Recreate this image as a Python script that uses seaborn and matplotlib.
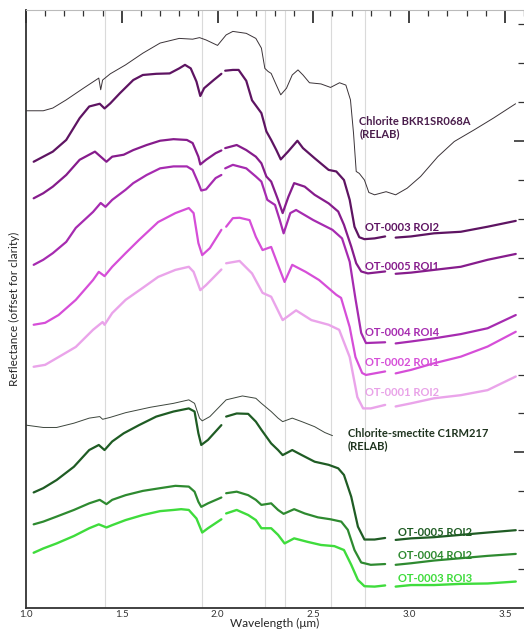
import numpy as np
import pandas as pd
import matplotlib.pyplot as plt
import seaborn as sns
from matplotlib.ticker import FixedLocator, MultipleLocator

nan = np.nan

# ---- spectra: wavelength (um) and offset reflectance --------------------------
# NaN marks the detector gaps in the OT spectra
chl_bkr_wl = [1.00, 1.09, 1.14, 1.21, 1.30, 1.38, 1.39, 1.40, 1.44, 1.52, 1.61, 1.70, 1.80, 1.87,
              1.906, 1.94, 2.00, 2.045, 2.08, 2.15, 2.20, 2.229, 2.247, 2.264, 2.28, 2.307, 2.33,
              2.36, 2.39, 2.42, 2.446, 2.48, 2.54, 2.59, 2.637, 2.67, 2.694, 2.71, 2.724, 2.74,
              2.767, 2.79, 2.82, 2.88, 2.93, 2.99, 3.06, 3.15, 3.236, 3.34, 3.44, 3.556]
chl_bkr_r = [12.78, 12.78, 12.85, 13.06, 13.36, 13.62, 13.32, 13.57, 13.73, 13.96, 14.26, 14.52,
             14.64, 14.62, 14.66, 14.60, 14.46, 14.73, 14.82, 14.77, 14.64, 14.39, 13.87, 13.79,
             13.74, 13.44, 13.19, 13.36, 13.70, 13.83, 13.70, 13.50, 13.47, 13.38, 13.50, 13.44,
             13.06, 12.20, 11.22, 11.17, 11.00, 10.68, 10.62, 10.70, 10.62, 10.79, 11.09, 11.60,
             11.99, 12.29, 12.59, 12.96]

ot3_roi2_wl = [1.04, 1.09, 1.14, 1.21, 1.28, 1.33, 1.385, 1.41, 1.44, 1.49, 1.56, 1.61, 1.68, 1.75,
               1.80, 1.83, 1.86, 1.89, 1.91, 1.93, 1.98, 2.02, 2.03, 2.04, 2.08, 2.11, 2.15, 2.18,
               2.229, 2.255, 2.28, 2.307, 2.33, 2.368, 2.417, 2.446, 2.507, 2.58, 2.62, 2.66, 2.69,
               2.715, 2.74, 2.767, 2.82, 2.875, 2.90, 2.93, 3.01, 3.13, 3.27, 3.41, 3.557]
ot3_roi2_r = [11.47, 11.60, 11.73, 12.03, 12.59, 12.89, 12.96, 12.84, 12.97, 13.23, 13.57, 13.70,
              13.73, 13.74, 13.87, 13.96, 13.87, 13.53, 13.16, 13.36, 13.57, 13.73, nan, 13.81,
              13.83, 13.83, 13.55, 13.05, 12.72, 12.25, 12.03, 11.77, 11.53, 11.73, 12.01, 11.82,
              11.56, 11.26, 11.22, 11.00, 10.49, 9.80, 9.53, 9.48, 9.50, 9.55, nan, 9.52, 9.55,
              9.63, 9.67, 9.80, 9.95]

ot5_roi1_wl = [1.04, 1.09, 1.14, 1.21, 1.28, 1.36, 1.42, 1.45, 1.51, 1.56, 1.63, 1.70, 1.77, 1.84,
               1.87, 1.90, 1.91, 1.94, 1.99, 2.02, 2.03, 2.04, 2.10, 2.15, 2.20, 2.229, 2.255, 2.28,
               2.316, 2.34, 2.37, 2.40, 2.455, 2.507, 2.58, 2.63, 2.66, 2.698, 2.724, 2.75, 2.785,
               2.875, 2.90, 2.93, 3.01, 3.13, 3.27, 3.41, 3.557]
ot5_roi1_r = [10.53, 10.66, 10.83, 11.13, 11.52, 11.73, 11.47, 11.60, 11.65, 11.77, 11.90, 12.01,
              12.05, 12.03, 11.95, 11.60, 11.40, 11.52, 11.69, 11.76, nan, 11.82, 11.90, 11.77,
              11.60, 11.43, 11.09, 10.96, 10.49, 10.15, 10.57, 10.92, 10.83, 10.62, 10.40, 10.19,
              9.85, 9.29, 8.86, 8.65, 8.60, 8.65, nan, 8.59, 8.62, 8.69, 8.77, 8.95, 9.10]

ot4_roi4_wl = [1.04, 1.09, 1.14, 1.21, 1.26, 1.35, 1.39, 1.415, 1.45, 1.52, 1.56, 1.63, 1.70, 1.77,
               1.84, 1.87, 1.90, 1.915, 1.94, 1.99, 2.02, 2.03, 2.04, 2.08, 2.15, 2.20, 2.229, 2.26,
               2.30, 2.325, 2.345, 2.38, 2.41, 2.50, 2.60, 2.65, 2.69, 2.72, 2.75, 2.775, 2.875,
               2.90, 2.93, 3.01, 3.13, 3.27, 3.41, 3.557]
ot4_roi4_r = [8.82, 8.95, 9.12, 9.41, 9.77, 10.18, 10.41, 10.31, 10.49, 10.75, 10.92, 11.13, 11.30,
              11.35, 11.35, 11.26, 10.92, 10.73, 10.76, 11.05, 11.13, nan, 11.30, 11.39, 11.30,
              11.09, 10.96, 10.49, 10.36, 9.97, 9.63, 10.15, 10.23, 9.97, 9.72, 9.50, 8.90, 7.95,
              7.07, 6.81, 6.83, nan, 6.80, 6.85, 6.93, 7.04, 7.19, 7.53]

ot2_roi1_wl = [1.04, 1.10, 1.17, 1.26, 1.35, 1.38, 1.41, 1.45, 1.52, 1.59, 1.69, 1.78, 1.85, 1.875,
               1.90, 1.92, 1.96, 2.02, 2.03, 2.045, 2.08, 2.115, 2.167, 2.20, 2.235, 2.28, 2.31,
               2.35, 2.39, 2.46, 2.53, 2.62, 2.645, 2.69, 2.72, 2.755, 2.775, 2.875, 2.90, 2.93,
               3.01, 3.13, 3.27, 3.41, 3.557]
ot2_roi1_r = [7.28, 7.33, 7.53, 7.92, 8.43, 8.64, 8.53, 8.77, 9.12, 9.46, 9.92, 10.15, 10.28, 10.15,
              9.38, 9.07, 9.25, 9.72, nan, 9.80, 10.02, 10.03, 9.97, 9.54, 9.20, 9.28, 8.89, 8.38,
              8.82, 8.64, 8.43, 8.05, 7.97, 7.22, 6.45, 6.04, 5.99, 6.08, nan, 6.03, 6.12, 6.29,
              6.46, 6.72, 7.10]

ot1_roi2_wl = [1.04, 1.10, 1.17, 1.26, 1.35, 1.40, 1.41, 1.45, 1.52, 1.61, 1.69, 1.78, 1.85, 1.875,
               1.91, 1.94, 2.02, 2.03, 2.045, 2.115, 2.18, 2.235, 2.28, 2.34, 2.41, 2.49, 2.58,
               2.635, 2.69, 2.73, 2.76, 2.80, 2.875, 2.90, 2.93, 3.01, 3.13, 3.27, 3.41, 3.557]
ot1_roi2_r = [6.20, 6.25, 6.45, 6.71, 7.15, 7.35, 7.28, 7.58, 7.92, 8.23, 8.51, 8.69, 8.77, 8.64,
              8.17, 8.30, 8.70, nan, 8.86, 8.92, 8.60, 8.10, 8.00, 7.40, 7.65, 7.40, 7.28, 7.15,
              6.45, 5.42, 5.13, 5.13, 5.22, nan, 5.18, 5.26, 5.39, 5.47, 5.60, 5.95]

chl_sme_wl = [1.00, 1.09, 1.16, 1.25, 1.33, 1.385, 1.40, 1.44, 1.52, 1.65, 1.77, 1.85, 1.88, 1.906,
              1.92, 1.96, 2.045, 2.13, 2.20, 2.229, 2.28, 2.316, 2.34, 2.39, 2.44, 2.507, 2.56, 2.60]
chl_sme_r = [4.70, 4.64, 4.64, 4.75, 4.88, 4.92, 4.85, 4.90, 5.02, 5.16, 5.26, 5.35, 5.26, 4.88,
             4.81, 4.92, 5.35, 5.45, 5.39, 5.26, 5.05, 4.88, 4.79, 4.88, 4.79, 4.66, 4.51, 4.43]

ot5_roi2_wl = [1.04, 1.09, 1.16, 1.25, 1.33, 1.38, 1.41, 1.45, 1.51, 1.59, 1.68, 1.77, 1.85, 1.88,
               1.90, 1.915, 1.95, 2.02, 2.03, 2.045, 2.10, 2.16, 2.20, 2.229, 2.28, 2.316, 2.34,
               2.39, 2.44, 2.507, 2.58, 2.63, 2.66, 2.698, 2.733, 2.767, 2.82, 2.875, 2.90, 2.93,
               3.01, 3.13, 3.27, 3.41, 3.557]
ot5_roi2_r = [2.97, 3.08, 3.29, 3.63, 4.06, 4.19, 4.06, 4.28, 4.49, 4.70, 4.92, 5.05, 5.13, 5.05,
              4.49, 4.19, 4.32, 4.70, nan, 4.92, 5.00, 4.99, 4.79, 4.58, 4.23, 4.06, 3.93, 4.06,
              3.93, 3.76, 3.68, 3.59, 3.42, 2.86, 2.09, 1.76, 1.76, 1.80, nan, 1.75, 1.79, 1.82,
              1.88, 1.94, 2.00]

ot4_roi2_wl = [1.04, 1.09, 1.16, 1.25, 1.33, 1.385, 1.42, 1.45, 1.52, 1.61, 1.70, 1.78, 1.85, 1.88,
               1.90, 1.915, 1.95, 2.02, 2.03, 2.045, 2.10, 2.16, 2.20, 2.229, 2.28, 2.316, 2.345,
               2.40, 2.455, 2.524, 2.59, 2.646, 2.68, 2.715, 2.75, 2.80, 2.875, 2.90, 2.93, 3.01,
               3.13, 3.27, 3.41, 3.557]
ot4_roi2_r = [2.15, 2.22, 2.35, 2.52, 2.69, 2.78, 2.67, 2.78, 2.90, 3.01, 3.08, 3.14, 3.12, 2.99,
              2.73, 2.60, 2.69, 2.84, nan, 2.95, 2.99, 2.90, 2.78, 2.65, 2.69, 2.52, 2.42, 2.54,
              2.43, 2.33, 2.28, 2.22, 2.01, 1.49, 1.17, 1.11, 1.13, nan, 1.11, 1.15, 1.22, 1.28,
              1.34, 1.39]

ot3_roi3_wl = [1.04, 1.09, 1.16, 1.25, 1.33, 1.38, 1.42, 1.45, 1.52, 1.61, 1.70, 1.77, 1.81, 1.85,
               1.89, 1.92, 1.95, 2.02, 2.03, 2.045, 2.10, 2.16, 2.20, 2.229, 2.28, 2.316, 2.35,
               2.40, 2.47, 2.54, 2.61, 2.66, 2.698, 2.733, 2.767, 2.82, 2.875, 2.90, 2.93, 3.01,
               3.13, 3.27, 3.41, 3.557]
ot3_roi3_r = [1.42, 1.53, 1.66, 1.85, 2.05, 2.15, 2.07, 2.13, 2.26, 2.39, 2.49, 2.52, 2.54, 2.52,
              2.30, 1.94, 2.05, 2.28, nan, 2.43, 2.52, 2.39, 2.26, 2.05, 2.05, 1.88, 1.66, 1.79,
              1.70, 1.62, 1.59, 1.49, 1.11, 0.72, 0.56, 0.55, 0.58, nan, 0.55, 0.59, 0.59, 0.62,
              0.63, 0.68]

names = ["Chlorite BKR1SR068A\n(RELAB)", "OT-0003 ROI2", "OT-0005 ROI1", "OT-0004 ROI4",
         "OT-0002 ROI1", "OT-0001 ROI2", "Chlorite-smectite C1RM217\n(RELAB)", "OT-0005 ROI2",
         "OT-0004 ROI2", "OT-0003 ROI3"]
wls = [chl_bkr_wl, ot3_roi2_wl, ot5_roi1_wl, ot4_roi4_wl, ot2_roi1_wl, ot1_roi2_wl,
       chl_sme_wl, ot5_roi2_wl, ot4_roi2_wl, ot3_roi3_wl]
refl = [chl_bkr_r, ot3_roi2_r, ot5_roi1_r, ot4_roi4_r, ot2_roi1_r, ot1_roi2_r,
        chl_sme_r, ot5_roi2_r, ot4_roi2_r, ot3_roi3_r]

feature_lines = [1.41, 1.92, 2.25, 2.35, 2.59, 2.77]

# ---- styling -----------------------------------------------------------------
line_colors = ["#3b3338", "#5e1462", "#861c8c", "#a62bb0", "#d64ed8", "#eaa4ea",
               "#3d463d", "#1f5c24", "#2e8a30", "#3fdc3c"]
text_colors = ["#4a1d4c", "#5e1462", "#861c8c", "#a62bb0", "#d64ed8", "#e9a2e8",
               "#1f341f", "#1f5c24", "#2e8a30", "#3fdc3c"]
line_widths = [0.7, 1.6, 1.6, 1.6, 1.6, 1.7, 0.7, 1.6, 1.6, 1.7]
label_xy = [(2.74, 12.35), (2.77, 9.79), (2.77, 8.77), (2.77, 7.07), (2.77, 6.32), (2.77, 5.53),
            (2.68, 4.33), (2.94, 1.95), (2.94, 1.36), (2.94, 0.77)]

# long table, one "segment" per unbroken stretch of a spectrum
rows = []
for name, wl, r in zip(names, wls, refl):
    seg = 0
    for w, v in zip(wl, r):
        if np.isnan(v):
            seg += 1
            continue
        rows.append((name, seg, w, v))
df = pd.DataFrame(rows, columns=["spectrum", "segment", "wavelength", "reflectance"])

sns.set_style("white")
plt.rcParams["font.family"] = ["Lato", "DejaVu Sans"]

fig = plt.figure(figsize=(5.24, 6.29), dpi=100)
ax = fig.add_axes([26 / 524, 21 / 629, 498 / 524, 598 / 629])

for x in feature_lines:
    ax.axvline(x, color="#dadada", lw=0.8, zorder=0)

for name, c, lw in zip(names, line_colors, line_widths):
    sub = df[df["spectrum"] == name]
    sns.lineplot(data=sub, x="wavelength", y="reflectance", units="segment", estimator=None,
                 sort=False, color=c, lw=lw, ax=ax, legend=False)

for name, (x, y), c in zip(names, label_xy, text_colors):
    ax.text(x, y, name, color=c, fontsize=8, fontweight="bold", va="center", ha="left",
            linespacing=1.05)

ax.set_xlim(1.0, 3.6)
ax.set_ylim(0, 15.37)
ax.xaxis.set_major_locator(MultipleLocator(0.5))
ax.xaxis.set_minor_locator(MultipleLocator(0.1))
ax.yaxis.set_major_locator(FixedLocator([4, 12]))
ax.yaxis.set_minor_locator(FixedLocator([k for k in range(1, 16) if k not in (4, 12)]))

ax.tick_params(which="both", direction="in", top=True, right=True, colors="#333333",
               labelleft=False, labelsize=7, pad=1.5)
ax.tick_params(axis="x", which="major", length=9, width=1.3)
ax.tick_params(axis="x", which="minor", length=4.5, width=0.9)
ax.tick_params(axis="y", which="major", length=7, width=1.2)
ax.tick_params(axis="y", which="minor", length=4.5, width=0.9)

ax.set_xlabel("Wavelength (μm)", fontsize=8.5, labelpad=-1)
ax.set_ylabel("Reflectance (offset for clarity)", fontsize=8.5, labelpad=4)

for s in ("left", "bottom"):
    ax.spines[s].set_color("#333333")
    ax.spines[s].set_linewidth(1.3)
ax.spines["top"].set_color("#bbbbbb")
ax.spines["top"].set_linewidth(0.8)
ax.spines["right"].set_visible(False)

fig.savefig("out.png", dpi=100)
plt.close(fig)
